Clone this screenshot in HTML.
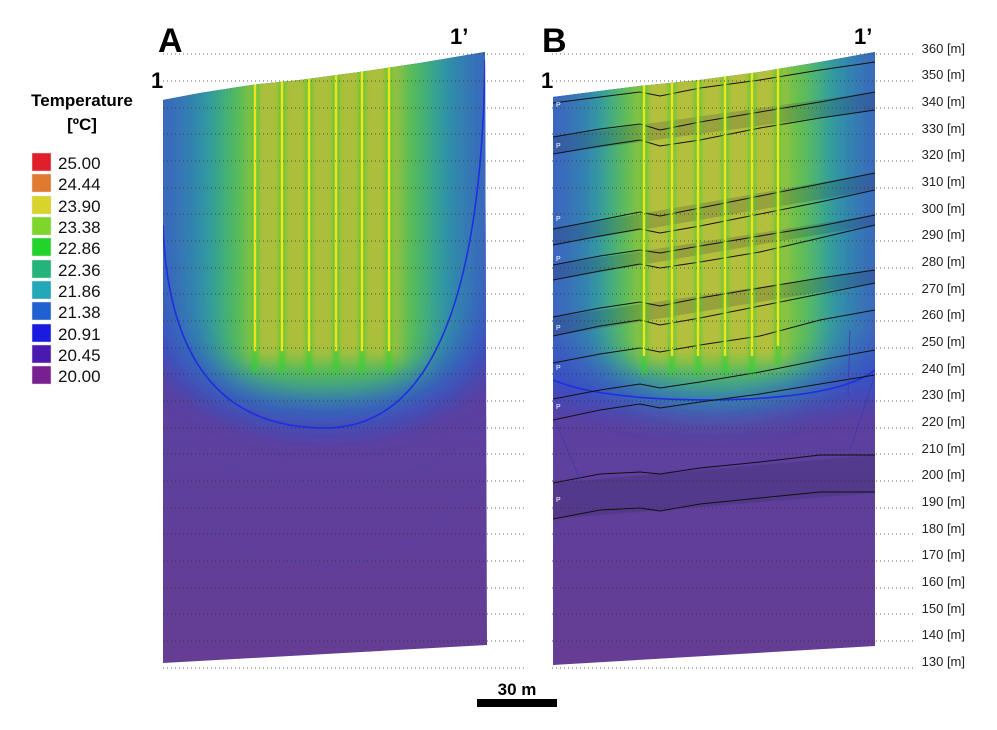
<!DOCTYPE html>
<html><head><meta charset="utf-8"><style>
body{margin:0;background:#fff;}
svg{display:block;font-family:"Liberation Sans",sans-serif;}
</style></head><body>
<svg width="997" height="730" viewBox="0 0 997 730" xmlns="http://www.w3.org/2000/svg">
<defs>
<filter id="b20" x="-50%" y="-50%" width="200%" height="200%"><feGaussianBlur stdDeviation="22"/></filter>
<filter id="b12" x="-50%" y="-50%" width="200%" height="200%"><feGaussianBlur stdDeviation="14"/></filter>
<filter id="b6" x="-50%" y="-50%" width="200%" height="200%"><feGaussianBlur stdDeviation="8"/></filter>
<filter id="b2" x="-50%" y="-50%" width="200%" height="200%"><feGaussianBlur stdDeviation="2"/></filter>
<clipPath id="cA"><path d="M163,100 L200,93 L245,86 L260,84 L300,80 L360,72 L420,63 L485,52 L487,645 L163,663 Z"/></clipPath>
<clipPath id="cB"><path d="M553,97 L600,91 L640,86 L700,80 L760,72 L820,62 L875,52 L875,646 L553,665 Z"/></clipPath>
<linearGradient id="bg" x1="0" y1="0" x2="0" y2="1"><stop offset="0" stop-color="#4a50b8"/><stop offset="0.6" stop-color="#5c40a0"/><stop offset="1" stop-color="#663d92"/></linearGradient>
</defs>

<!-- Panel A -->
<g clip-path="url(#cA)">
<rect x="150" y="20" width="350" height="660" fill="url(#bg)"/>
<path d="M120,0 L530,0 L530,250 Q500,430 325,430 Q150,430 120,250 Z" fill="#3a4cc4" filter="url(#b12)"/>
<path d="M120,0 L530,0 L530,200 Q480,400 325,400 Q170,400 120,200 Z" fill="#3b62c0" filter="url(#b20)"/>
<path d="M190,0 L460,0 L460,320 Q450,395 325,395 Q200,395 190,320 Z" fill="#2ca0a0" filter="url(#b20)"/>
<path d="M225,0 L425,0 L425,350 Q410,385 325,385 Q240,385 225,350 Z" fill="#5cc050" filter="url(#b12)"/>
<rect x="250" y="0" width="150" height="360" fill="#acbf3e" filter="url(#b6)"/>
<path d="M163,225 Q170,428 325,428 Q480,428 485,60" fill="none" stroke="#1f2ee0" stroke-width="1.6"/>
<g fill="none" stroke="#4a44b0" stroke-width="0.8" opacity="0.7">
<path d="M170,420 Q220,485 325,485 Q430,485 487,420"/>
<path d="M163,470 Q230,565 325,565 Q420,565 487,470"/>
</g>
<g stroke-linecap="round">
<g stroke="#30d030" stroke-width="6" opacity="0.7" filter="url(#b2)">
<line x1="255" y1="82" x2="255" y2="370"/><line x1="282" y1="80" x2="282" y2="370"/><line x1="309" y1="78" x2="309" y2="370"/><line x1="336" y1="75" x2="336" y2="370"/><line x1="362" y1="71" x2="362" y2="370"/><line x1="389" y1="68" x2="389" y2="370"/>
</g>
<g stroke="#f5e020" stroke-width="2.5">
<line x1="255" y1="82" x2="255" y2="350"/><line x1="282" y1="80" x2="282" y2="350"/><line x1="309" y1="78" x2="309" y2="350"/><line x1="336" y1="75" x2="336" y2="350"/><line x1="362" y1="71" x2="362" y2="350"/><line x1="389" y1="68" x2="389" y2="350"/>
</g>
</g>
</g>

<!-- Panel B -->
<g clip-path="url(#cB)">
<rect x="540" y="20" width="350" height="660" fill="url(#bg)"/>
<path d="M510,0 L920,0 L920,395 Q760,410 715,410 Q600,410 510,395 Z" fill="#3a4cc4" filter="url(#b12)"/>
<path d="M510,0 L920,0 L920,330 Q800,400 715,400 Q620,400 510,330 Z" fill="#3c62c0" filter="url(#b20)"/>
<path d="M585,0 L850,0 L850,340 Q800,398 715,398 Q630,398 585,340 Z" fill="#2ca4a0" filter="url(#b20)"/>
<path d="M615,0 L815,0 L815,350 Q790,380 715,380 Q640,380 615,350 Z" fill="#6cc24a" filter="url(#b12)"/>
<rect x="640" y="0" width="145" height="360" fill="#b4c03c" filter="url(#b6)"/>
<path d="M553,380 Q600,400 715,400 Q840,398 875,370" fill="none" stroke="#1f2ee0" stroke-width="1.6"/>
<g fill="#202040" opacity="0.18">
<path d="M553,137 L875,92 L875,110 L553,154 Z"/>
<path d="M553,229 L875,173 L875,190 L553,245 Z"/>
<path d="M553,265 L875,215 L875,225 L553,280 Z"/>
<path d="M553,317 L875,270 L875,283 L553,336 Z"/>
<path d="M553,483 L875,455 L875,493 L553,519 Z"/>
</g>
<g fill="none" stroke="#111" stroke-width="1">
<path d="M553,103 L600,97 L640,92 L660,96 L700,88 L760,80 L820,70 L875,62"/>
<path d="M553,137 L600,129 L640,124 L660,130 L700,122 L760,112 L820,102 L875,92"/>
<path d="M553,154 L600,146 L640,140 L660,146 L700,140 L760,128 L820,118 L875,110"/>
<path d="M553,229 L600,220 L640,212 L660,216 L700,208 L760,196 L820,184 L875,173"/>
<path d="M553,245 L600,236 L640,229 L660,233 L700,226 L760,214 L820,202 L875,190"/>
<path d="M553,265 L600,256 L640,250 L660,253 L700,246 L760,236 L820,226 L875,215"/>
<path d="M553,280 L600,271 L640,264 L660,268 L700,262 L760,252 L820,238 L875,225"/>
<path d="M553,317 L600,308 L640,302 L660,306 L700,298 L760,288 L820,278 L875,270"/>
<path d="M553,336 L600,326 L640,320 L660,325 L700,318 L760,306 L820,294 L875,283"/>
<path d="M553,363 L600,354 L640,348 L660,352 L700,345 L760,336 L820,320 L875,310"/>
<path d="M553,399 L600,390 L640,384 L660,388 L700,382 L760,372 L820,360 L875,350"/>
<path d="M553,420 L600,410 L640,404 L660,408 L700,402 L760,394 L820,384 L875,375"/>
<path d="M553,483 L600,474 L640,472 L660,474 L700,468 L760,462 L820,455 L875,455"/>
<path d="M553,519 L600,510 L640,508 L660,511 L700,504 L760,498 L820,492 L875,492"/>
</g>
<g fill="none" stroke="#3e3aa8" stroke-width="0.8">
<path d="M555,420 L580,480"/><path d="M875,375 L850,450"/>
<path d="M850,330 L848,395"/>
</g>
<g stroke-linecap="round">
<g stroke="#30d030" stroke-width="6" opacity="0.7" filter="url(#b2)">
<line x1="644" y1="84" x2="644" y2="372"/><line x1="672" y1="82" x2="672" y2="372"/><line x1="698" y1="80" x2="698" y2="372"/><line x1="725" y1="77" x2="725" y2="372"/><line x1="752" y1="72" x2="752" y2="372"/><line x1="778" y1="68" x2="778" y2="362"/>
</g>
<g stroke="#f5e020" stroke-width="2.5">
<line x1="644" y1="84" x2="644" y2="355"/><line x1="672" y1="82" x2="672" y2="355"/><line x1="698" y1="80" x2="698" y2="355"/><line x1="725" y1="77" x2="725" y2="355"/><line x1="752" y1="72" x2="752" y2="355"/><line x1="778" y1="68" x2="778" y2="345"/>
</g>
</g>
<g fill="#fff" font-size="7"><text x="556" y="107">P</text><text x="556" y="148">P</text><text x="556" y="221">P</text><text x="556" y="261">P</text><text x="556" y="330">P</text><text x="556" y="370">P</text><text x="556" y="409">P</text><text x="556" y="502">P</text></g>
</g>

<!-- dotted lines (on top) -->
<g stroke="#333" stroke-width="1" stroke-dasharray="1,3" opacity="0.75">
<line x1="163" y1="54" x2="525" y2="54"/><line x1="552" y1="54" x2="915" y2="54"/>
<line x1="163" y1="81" x2="525" y2="81"/><line x1="552" y1="81" x2="915" y2="81"/>
<line x1="163" y1="108" x2="525" y2="108"/><line x1="552" y1="108" x2="915" y2="108"/>
<line x1="163" y1="134" x2="525" y2="134"/><line x1="552" y1="134" x2="915" y2="134"/>
<line x1="163" y1="161" x2="525" y2="161"/><line x1="552" y1="161" x2="915" y2="161"/>
<line x1="163" y1="188" x2="525" y2="188"/><line x1="552" y1="188" x2="915" y2="188"/>
<line x1="163" y1="214" x2="525" y2="214"/><line x1="552" y1="214" x2="915" y2="214"/>
<line x1="163" y1="241" x2="525" y2="241"/><line x1="552" y1="241" x2="915" y2="241"/>
<line x1="163" y1="268" x2="525" y2="268"/><line x1="552" y1="268" x2="915" y2="268"/>
<line x1="163" y1="294" x2="525" y2="294"/><line x1="552" y1="294" x2="915" y2="294"/>
<line x1="163" y1="321" x2="525" y2="321"/><line x1="552" y1="321" x2="915" y2="321"/>
<line x1="163" y1="348" x2="525" y2="348"/><line x1="552" y1="348" x2="915" y2="348"/>
<line x1="163" y1="374" x2="525" y2="374"/><line x1="552" y1="374" x2="915" y2="374"/>
<line x1="163" y1="401" x2="525" y2="401"/><line x1="552" y1="401" x2="915" y2="401"/>
<line x1="163" y1="428" x2="525" y2="428"/><line x1="552" y1="428" x2="915" y2="428"/>
<line x1="163" y1="454" x2="525" y2="454"/><line x1="552" y1="454" x2="915" y2="454"/>
<line x1="163" y1="481" x2="525" y2="481"/><line x1="552" y1="481" x2="915" y2="481"/>
<line x1="163" y1="508" x2="525" y2="508"/><line x1="552" y1="508" x2="915" y2="508"/>
<line x1="163" y1="534" x2="525" y2="534"/><line x1="552" y1="534" x2="915" y2="534"/>
<line x1="163" y1="561" x2="525" y2="561"/><line x1="552" y1="561" x2="915" y2="561"/>
<line x1="163" y1="588" x2="525" y2="588"/><line x1="552" y1="588" x2="915" y2="588"/>
<line x1="163" y1="614" x2="525" y2="614"/><line x1="552" y1="614" x2="915" y2="614"/>
<line x1="163" y1="641" x2="525" y2="641"/><line x1="552" y1="641" x2="915" y2="641"/>
<line x1="163" y1="668" x2="525" y2="668"/><line x1="552" y1="668" x2="915" y2="668"/>
</g>

<!-- panel labels -->
<g font-weight="bold" fill="#000">
<text x="158" y="52" font-size="34">A</text>
<text x="450" y="44" font-size="22">1’</text>
<text x="151" y="88" font-size="22">1</text>
<text x="542" y="52" font-size="34">B</text>
<text x="854" y="44" font-size="22">1’</text>
<text x="541" y="88" font-size="22">1</text>
</g>

<!-- elevation labels -->
<g font-size="13" fill="#222" text-anchor="end">
<text x="965" y="53">360 [m]</text><text x="965" y="79">350 [m]</text><text x="965" y="106">340 [m]</text><text x="965" y="133">330 [m]</text><text x="965" y="159">320 [m]</text><text x="965" y="186">310 [m]</text><text x="965" y="213">300 [m]</text><text x="965" y="239">290 [m]</text><text x="965" y="266">280 [m]</text><text x="965" y="293">270 [m]</text><text x="965" y="319">260 [m]</text><text x="965" y="346">250 [m]</text><text x="965" y="373">240 [m]</text><text x="965" y="399">230 [m]</text><text x="965" y="426">220 [m]</text><text x="965" y="453">210 [m]</text><text x="965" y="479">200 [m]</text><text x="965" y="506">190 [m]</text><text x="965" y="533">180 [m]</text><text x="965" y="559">170 [m]</text><text x="965" y="586">160 [m]</text><text x="965" y="613">150 [m]</text><text x="965" y="639">140 [m]</text><text x="965" y="666">130 [m]</text>
</g>

<!-- legend -->
<g font-weight="bold" font-size="17" text-anchor="middle"><text x="82" y="106">Temperature</text><text x="82" y="130">[ºC]</text></g>
<g stroke="#ddd" stroke-width="0.5">
<rect x="32" y="153" width="19" height="18" fill="#e01f2a"/>
<rect x="32" y="174" width="19" height="18" fill="#e07a2e"/>
<rect x="32" y="196" width="19" height="18" fill="#d8d42a"/>
<rect x="32" y="217" width="19" height="18" fill="#7ed62a"/>
<rect x="32" y="238" width="19" height="18" fill="#22d42a"/>
<rect x="32" y="260" width="19" height="18" fill="#22b47a"/>
<rect x="32" y="281" width="19" height="18" fill="#22a8b8"/>
<rect x="32" y="302" width="19" height="18" fill="#2060d0"/>
<rect x="32" y="324" width="19" height="18" fill="#1a1ae0"/>
<rect x="32" y="345" width="19" height="18" fill="#4a1ab0"/>
<rect x="32" y="366" width="19" height="18" fill="#782090"/>
</g>
<g font-size="17" fill="#111">
<text x="58" y="169">25.00</text><text x="58" y="190">24.44</text><text x="58" y="212">23.90</text><text x="58" y="233">23.38</text><text x="58" y="254">22.86</text><text x="58" y="276">22.36</text><text x="58" y="297">21.86</text><text x="58" y="318">21.38</text><text x="58" y="340">20.91</text><text x="58" y="361">20.45</text><text x="58" y="382">20.00</text>
</g>

<!-- scale bar -->
<text x="517" y="695" font-size="17" font-weight="bold" text-anchor="middle">30 m</text>
<rect x="477" y="699" width="80" height="8" fill="#000"/>
</svg>
</body></html>
